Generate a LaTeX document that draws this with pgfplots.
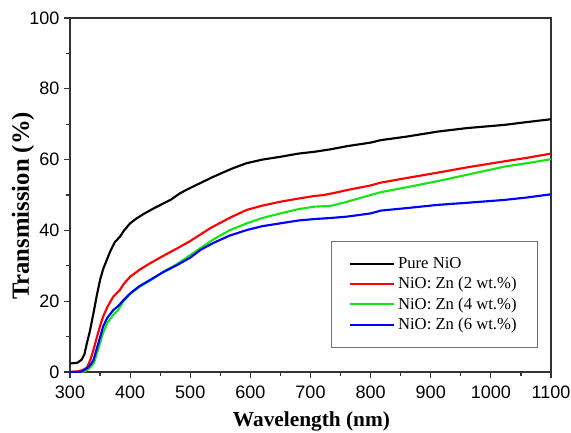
\documentclass[border=0pt]{standalone}
\usepackage{fontspec}
\setmainfont{Liberation Serif}
\newfontfamily\arialfont{Liberation Sans}
\usepackage{pgfplots}
\pgfplotsset{compat=1.18}
\definecolor{cgreen}{RGB}{20,230,20}
\begin{document}
\begin{tikzpicture}
\begin{axis}[
  scale only axis,
  width=360.75pt, height=265.5pt,
  xmin=300, xmax=1100, ymin=0, ymax=100,
  xtick={300,400,...,1100}, ytick={0,20,...,100},
  minor x tick num=1, minor y tick num=1,
  tick pos=left, tick align=outside,
  major tick length=4.5pt, minor tick length=3pt,
  axis line style={line width=1pt, black!80},
  every tick/.style={line width=0.9pt, black!80},
  /pgf/number format/assume math mode=true,
  /pgf/number format/1000 sep={},
  ticklabel style={font=\arialfont\fontsize{13.5}{15}\selectfont},
  xticklabel style={yshift=-2.5pt},
  xlabel={\bfseries Wavelength (nm)},
  ylabel={\bfseries Transmission (\%)},
  xlabel style={font=\fontsize{16}{18}\selectfont, at={(axis description cs:0.502,-0.141)}, anchor=center},
  ylabel style={font=\fontsize{18.5}{20}\selectfont, at={(axis description cs:-0.098,0.469)}, anchor=center},
  legend cell align=left,
  legend style={at={(0.9725,0.068)}, anchor=south east,
    draw=black!55, line width=0.8pt,
    font=\fontsize{12.5}{14}\selectfont,
    inner xsep=13.5pt, inner ysep=10pt, row sep=1pt},
  legend image code/.code={\draw[#1, line width=1.6pt] (0pt,0pt) -- (33pt,0pt);},
  every axis plot/.append style={line width=1.6pt},
]
\addplot[black] coordinates {(300,2.4)(305,2.5)(312,2.6)(319,3.4)(324,5)(328,8.1)(333,11.5)(339,16.6)(345,22)(350,26)(355,29)(361,31.6)(368,34.5)(375,36.8)(383,38.2)(390,40)(400,42)(410,43.3)(422,44.6)(440,46.3)(467,48.6)(483,50.5)(500,52)(539,55.2)(570,57.5)(594,59)(620,60)(650,60.8)(680,61.7)(706,62.2)(733,62.9)(761,63.8)(800,64.8)(817,65.5)(860,66.5)(911,67.9)(960,68.9)(1022,69.8)(1060,70.6)(1100,71.4)};
\addlegendentry{Pure NiO}
\addplot[red] coordinates {(300,0)(313,0.2)(320,0.5)(328,1.2)(334,3.5)(339,6.2)(345,10)(350,13)(355,15.6)(362,18.3)(372,21.3)(383,23.2)(390,25)(400,26.9)(415,28.8)(433,30.7)(455,32.8)(478,34.9)(500,37)(533,40.6)(565,43.5)(594,45.8)(620,47)(650,48.1)(680,49)(706,49.7)(722,50)(740,50.6)(761,51.4)(800,52.7)(817,53.5)(860,54.8)(911,56.3)(960,57.8)(1022,59.5)(1060,60.5)(1100,61.7)};
\addlegendentry{NiO: Zn (2 wt.\%)}
\addplot[cgreen] coordinates {(300,0)(318,0)(325,0.2)(332,1)(340,2.6)(347,6.5)(355,11)(362,13.8)(372,16.2)(380,17.5)(389,20)(400,22)(415,24)(433,25.8)(455,28.3)(478,30.5)(500,33)(517,35)(539,37.5)(565,40)(594,42)(620,43.5)(650,44.8)(680,46)(706,46.7)(733,46.9)(761,48.1)(800,50)(817,50.8)(860,52.2)(911,53.9)(960,55.7)(1022,58)(1060,59)(1100,60.1)};
\addlegendentry{NiO: Zn (4 wt.\%)}
\addplot[blue] coordinates {(300,0)(315,0)(320,0.2)(328,1)(334,2)(339,3.4)(347,8)(355,12.8)(362,15.3)(372,17.5)(380,18.6)(389,20.3)(400,22.2)(415,24.2)(433,26)(455,28.2)(478,30.2)(500,32.3)(517,34.5)(539,36.5)(565,38.5)(594,40.1)(620,41.2)(650,42)(680,42.8)(706,43.2)(733,43.5)(761,43.9)(800,44.8)(817,45.6)(860,46.3)(911,47.2)(960,47.8)(1022,48.6)(1060,49.3)(1100,50.2)};
\addlegendentry{NiO: Zn (6 wt.\%)}
\end{axis}
\pgfresetboundingbox
\path ([shift={(-52.5pt,-45pt)}]current axis.south west) rectangle ([shift={(15pt,13.5pt)}]current axis.north east);
\end{tikzpicture}
\end{document}
